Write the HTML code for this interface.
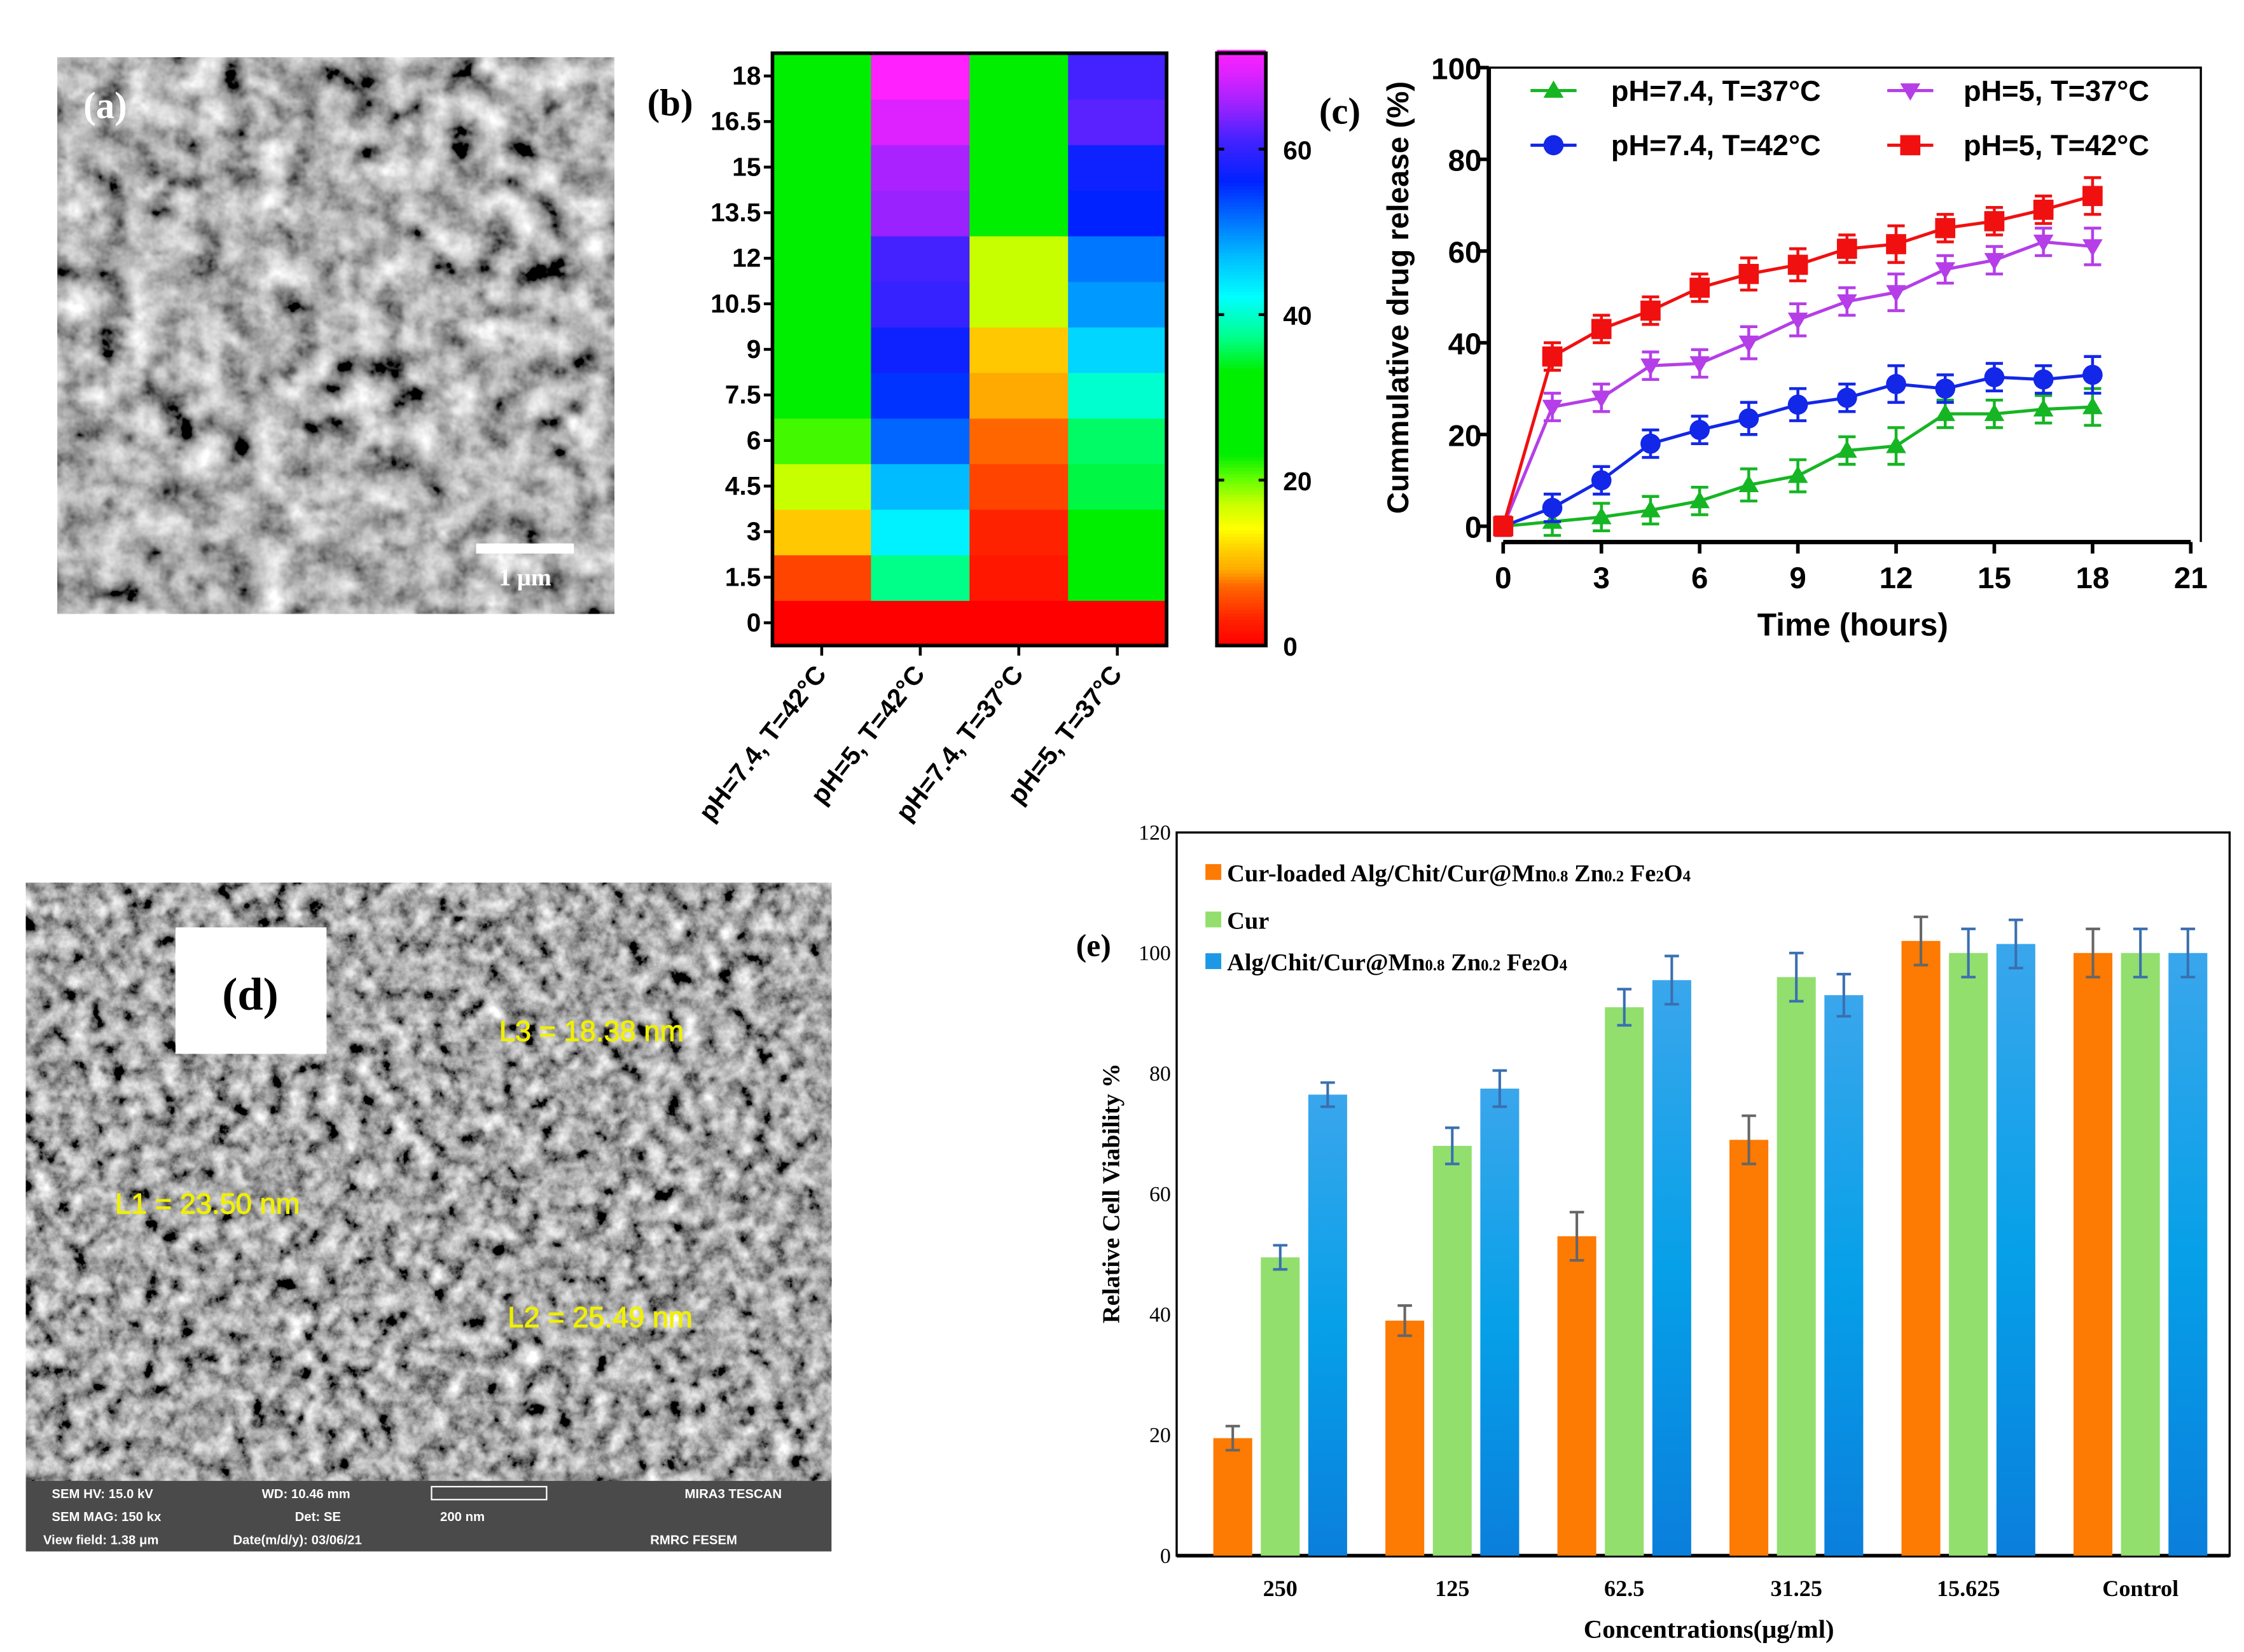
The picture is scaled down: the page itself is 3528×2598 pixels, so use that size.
<!DOCTYPE html>
<html><head><meta charset="utf-8"><style>
html,body{margin:0;padding:0;background:#fff}
svg{display:block}
text{font-family:"Liberation Sans",sans-serif}
.serif{font-family:"Liberation Serif",serif}
</style></head><body>
<svg id="fig" width="3528" height="2598" viewBox="0 0 1560 1149" preserveAspectRatio="none" xmlns="http://www.w3.org/2000/svg">
<defs>
<filter id="sem" x="0" y="0" width="100%" height="100%">
<feTurbulence type="fractalNoise" baseFrequency="0.045" numOctaves="4" seed="3"/>
<feColorMatrix type="matrix" values="0.33 0.33 0.33 0 0  0.33 0.33 0.33 0 0  0.33 0.33 0.33 0 0  0 0 0 0 1"/>
<feComponentTransfer><feFuncR type="linear" slope="2.6" intercept="-0.85"/><feFuncG type="linear" slope="2.6" intercept="-0.85"/><feFuncB type="linear" slope="2.6" intercept="-0.85"/></feComponentTransfer>
</filter>
<filter id="sem2" x="0" y="0" width="100%" height="100%">
<feTurbulence type="fractalNoise" baseFrequency="0.08" numOctaves="4" seed="8"/>
<feColorMatrix type="matrix" values="0.33 0.33 0.33 0 0  0.33 0.33 0.33 0 0  0.33 0.33 0.33 0 0  0 0 0 0 1"/>
<feComponentTransfer><feFuncR type="linear" slope="2.6" intercept="-0.9"/><feFuncG type="linear" slope="2.6" intercept="-0.9"/><feFuncB type="linear" slope="2.6" intercept="-0.9"/></feComponentTransfer>
</filter>
<linearGradient id="blueg" x1="0" y1="0" x2="0" y2="1"><stop offset="0" stop-color="#3aa6ec"/><stop offset="0.5" stop-color="#06a0e8"/><stop offset="1" stop-color="#0a7fdc"/></linearGradient>
</defs>

<!-- (a) SEM -->
<g>
<rect x="40" y="40" width="387" height="387" fill="#666"/>
<rect x="40" y="40" width="387" height="387" filter="url(#sem)"/>
<text x="58" y="82" class="serif" font-size="26" font-weight="bold" fill="#fff">(a)</text>
<rect x="331" y="378" width="68" height="7" fill="#fff"/>
<text x="365" y="407" class="serif" font-size="17" font-weight="bold" fill="#fff" text-anchor="middle">1 μm</text>
</g>

<!-- (b) heatmap -->
<g id="heat"></g>

<!-- (c) line chart -->
<g id="line"></g>

<!-- (d) SEM -->
<g>
<rect x="18" y="614" width="560" height="465" fill="#555"/>
<rect x="18" y="614" width="560" height="416" filter="url(#sem2)"/>
<rect x="122" y="645" width="105" height="88" fill="#fff"/>
<text x="174" y="702" class="serif" font-size="32" font-weight="bold" text-anchor="middle">(d)</text>
<g font-size="20" fill="#f0f000" stroke="#f0f000" stroke-width="0.5">
<text x="347" y="724">L3 = 18.38 nm</text>
<text x="80" y="844">L1 = 23.50 nm</text>
<text x="353" y="923">L2 = 25.49 nm</text>
</g>
<rect x="18" y="1030" width="560" height="49" fill="#4a4a4a"/>
<g font-size="9" fill="#fff" font-weight="bold">
<text x="36" y="1042">SEM HV: 15.0 kV</text><text x="182" y="1042">WD: 10.46 mm</text><text x="476" y="1042">MIRA3 TESCAN</text>
<text x="36" y="1058">SEM MAG: 150 kx</text><text x="205" y="1058">Det: SE</text><text x="306" y="1058">200 nm</text>
<text x="30" y="1074">View field: 1.38 μm</text><text x="162" y="1074">Date(m/d/y): 03/06/21</text><text x="452" y="1074">RMRC  FESEM</text>
</g>
<rect x="300" y="1034" width="80" height="9" fill="none" stroke="#fff" stroke-width="1"/>
</g>

<!-- (e) bar chart -->
<g id="bars"></g>
</svg>

<script>
// ===== heatmap data =====
const hmRows = [0,1.5,3,4.5,6,7.5,9,10.5,12,13.5,15,16.5,18];
const hmCols = ["pH=7.4, T=42°C","pH=5, T=42°C","pH=7.4, T=37°C","pH=5, T=37°C"];
const hmCol1 = [0,5,11,17,21,25,27,28,31,30,32,32,33];
const hmCol2 = [0,37,43,47,52,55,57,60,61,65,66,69,72];
const hmCol3 = [0,2,3,5,7,9,11,17,17,25,25,25,26];
const hmCol4 = [0,26,28,35,36,40,45,49,51,56,57,62,61];
const cbTicks = [0,20,40,60];

// ===== line chart data =====
const lcTime = [0,1.5,3,4.5,6,7.5,9,10.5,12,13.5,15,16.5,18];
const lcG37 = [0,1,2,3.5,5.5,9,11,16.5,17.5,24.5,24.5,25.5,26];
const lcB42 = [0,4,10,18,21,23.5,26.5,28,31,30,32.5,32,33];
const lcP37 = [0,26,28,35,35.5,40,45,49,51,56,58,62,61];
const lcR42 = [0,37,43,47,52,55,57,60.5,61.5,65,66.5,69,72];
const lcErr = [2,3,3,3,3,3.5,3.5,3,4,3,3,3,4];
const lcXTicks = [0,3,6,9,12,15,18,21];
const lcYTicks = [0,20,40,60,80,100];

// ===== bar chart data =====
const bcCats = ["250","125","62.5","31.25","15.625","Control"];
const bcOrange = [19.5,39,53,69,102,100];
const bcGreen = [49.5,68,91,96,100,100];
const bcBlue = [76.5,77.5,95.5,93,101.5,100];
const bcErrO = [2,2.5,4,4,4,4];
const bcErrG = [2,3,3,4,4,4];
const bcErrB = [2,3,4,3.5,4,4];
const bcYTicks = [0,20,40,60,80,100,120];

const NS="http://www.w3.org/2000/svg";
function mk(parent,tag,attrs,txt){const e=document.createElementNS(NS,tag);for(const k in attrs)e.setAttribute(k,attrs[k]);if(txt!==undefined)e.textContent=txt;parent.appendChild(e);return e;}

const cmapStops=[[0,[255,0,0]],[3,[255,34,0]],[5,[255,68,0]],[7,[255,102,0]],[9,[255,170,0]],[11,[255,200,0]],[14,[255,255,0]],[17,[200,255,0]],[20,[100,255,0]],[23,[0,238,0]],[33,[0,238,0]],[37,[0,255,136]],[42,[0,255,255]],[47,[0,187,255]],[52,[0,102,255]],[56,[0,34,255]],[61,[68,34,255]],[65,[153,34,255]],[69,[221,34,255]],[72,[255,34,255]]];
function cmap(v){if(v<=0)return "rgb(255,0,0)";for(let i=1;i<cmapStops.length;i++){const a=cmapStops[i-1],b=cmapStops[i];if(v<=b[0]){const t=(v-a[0])/(b[0]-a[0]);const c=a[1].map((x,j)=>Math.round(x+(b[1][j]-x)*t));return `rgb(${c})`;}}return "rgb(255,34,255)";}

// ---- heatmap ----
(function(){
const g=document.getElementById('heat');
const X0=537,X1=811,Y0=37,Y1=449;
const cw=(X1-X0)/hmCols.length, rh=(Y1-Y0)/hmRows.length;
const cols=[hmCol1,hmCol2,hmCol3,hmCol4];
const rowY=i=>Y1-(i+1)*rh;
cols.forEach((col,c)=>{col.forEach((v,r)=>{
  const cell=mk(g,'rect',{x:X0+c*cw,y:rowY(r),width:cw+0.6,height:rh+0.6,fill:cmap(v)});
  
  
});});
mk(g,'rect',{x:X0,y:Y0,width:X1-X0,height:Y1-Y0,fill:'none',stroke:'#000','stroke-width':2.5});
hmRows.forEach((v,i)=>{const y=rowY(i)+rh/2;mk(g,'line',{x1:X0-6,x2:X0,y1:y,y2:y,stroke:'#000','stroke-width':2});
  const t=mk(g,'text',{x:X0-8,y:y+6,'text-anchor':'end','font-size':18,'font-weight':'bold'},String(v));
  
  });
hmCols.forEach((n,c)=>{const x=X0+c*cw+cw/2;mk(g,'line',{x1:x,x2:x,y1:Y1,y2:Y1+7,stroke:'#000','stroke-width':2});
  const t=mk(g,'text',{x:x+4,y:Y1+20,'text-anchor':'end','font-size':18,'font-weight':'bold',transform:`rotate(-52 ${x+4} ${Y1+20})`},n);
  
  });
const lab=mk(g,'text',{x:450,y:80,class:'serif','font-size':26,'font-weight':'bold'},'(b)');


const CX0=846,CX1=880,vmax=71.6;
const cy=v=>Y1-v/vmax*(Y1-Y0);
for(let v=0;v<vmax;v+=0.4){mk(g,'rect',{x:CX0,y:cy(v+0.4),width:CX1-CX0,height:(Y1-Y0)*0.4/vmax+0.5,fill:cmap(v)});}
const cbf=mk(g,'rect',{x:CX0,y:Y0,width:CX1-CX0,height:Y1-Y0,fill:'none',stroke:'#000','stroke-width':2.5});


cbTicks.forEach(v=>{const y=cy(v);if(v>0){mk(g,'line',{x1:CX0,x2:CX0+5,y1:y,y2:y,stroke:'#000','stroke-width':2});mk(g,'line',{x1:CX1-5,x2:CX1,y1:y,y2:y,stroke:'#000','stroke-width':2});}
  const t=mk(g,'text',{x:CX1+12,y:y+7,'font-size':18,'font-weight':'bold'},String(v));
  
  });
})();

// ---- line chart ----
(function(){
const g=document.getElementById('line');
const xs=v=>1045+v*(1523-1045)/21, ys=v=>366-v*(366-47)/100;
const L=1035,B=377,T=47,R=1530;
mk(g,'path',{d:`M${L},${T}H${R}V${B}`,fill:'none',stroke:'#000','stroke-width':1.5});
mk(g,'line',{x1:L,x2:L,y1:T,y2:B,stroke:'#000','stroke-width':3});
mk(g,'line',{x1:xs(0),x2:xs(21),y1:B,y2:B,stroke:'#000','stroke-width':3});
lcXTicks.forEach(v=>{mk(g,'line',{x1:xs(v),x2:xs(v),y1:B,y2:B+8,stroke:'#000','stroke-width':2.5});
  const t=mk(g,'text',{x:xs(v),y:B+32,'text-anchor':'middle','font-size':21,'font-weight':'bold'},String(v));
  
  });
lcYTicks.forEach(v=>{mk(g,'line',{x1:L-8,x2:L,y1:ys(v),y2:ys(v),stroke:'#000','stroke-width':2.5});
  const t=mk(g,'text',{x:L-5,y:ys(v)+8,'text-anchor':'end','font-size':21,'font-weight':'bold'},String(v));
  
  });
const xt=mk(g,'text',{x:1288,y:442,'text-anchor':'middle','font-size':22,'font-weight':'bold'},'Time (hours)');


const yt=mk(g,'text',{x:979,y:207,'text-anchor':'middle','font-size':21,'font-weight':'bold',transform:'rotate(-90 979 207)'},'Cummulative drug release (%)');


const lb=mk(g,'text',{x:917,y:86,class:'serif','font-size':26,'font-weight':'bold'},'(c)');


function marker(p,shape,x,y,c){
  if(shape==='tri')return mk(p,'path',{d:`M${x},${y-7}L${x+7},${y+5}L${x-7},${y+5}Z`,fill:c});
  if(shape==='itri')return mk(p,'path',{d:`M${x},${y+7}L${x+7},${y-5}L${x-7},${y-5}Z`,fill:c});
  if(shape==='sq')return mk(p,'rect',{x:x-7,y:y-7,width:14,height:14,fill:c});
  return mk(p,'circle',{cx:x,cy:y,r:7,fill:c});
}
const series=[[lcG37,'#16b523','tri','pH=7.4, T=37°C',1080,63],[lcB42,'#1327e8','circ','pH=7.4, T=42°C',1080,101],[lcP37,'#b53ee8','itri','pH=5, T=37°C',1328,63],[lcR42,'#f01010','sq','pH=5, T=42°C',1328,101]];
series.forEach(([vals,c,shape,name,lx,ly])=>{
  const sg=mk(g,'g',{});
  
  
  mk(sg,'polyline',{points:vals.map((v,i)=>xs(lcTime[i])+','+ys(v)).join(' '),fill:'none',stroke:c,'stroke-width':2.2});
  vals.forEach((v,i)=>{const x=xs(lcTime[i]),e=lcErr[i];
    mk(sg,'path',{d:`M${x},${ys(v-e)}V${ys(v+e)}M${x-6},${ys(v-e)}h12M${x-6},${ys(v+e)}h12`,stroke:c,'stroke-width':2,fill:'none'});
    const m=marker(sg,shape,x,ys(v),c);
    
    });
  const le=mk(g,'g',{});
  
  
  mk(le,'line',{x1:lx-16,x2:lx+16,y1:ly,y2:ly,stroke:c,'stroke-width':2.2});
  marker(le,shape,lx,ly,c);
  mk(le,'text',{x:lx+(lx<1200?40:37),y:ly+7,'font-size':20,'font-weight':'bold'},name);
});
})();

// ---- bar chart ----
(function(){
const g=document.getElementById('bars');
const L=818,R=1550,T=579,B=1082;
const ys=v=>B-v*(B-T)/120;
const gx=i=>890+i*119.6;
const bw=27;
const fr=mk(g,'rect',{x:L,y:T,width:R-L,height:B-T,fill:'none',stroke:'#000','stroke-width':1.5});


mk(g,'line',{x1:L,x2:R,y1:B,y2:B,stroke:'#000','stroke-width':2.5});
bcYTicks.forEach(v=>{const t=mk(g,'text',{x:L-4,y:ys(v)+5,'text-anchor':'end',class:'serif','font-size':15},String(v));
  
  });
bcCats.forEach((c,i)=>{const t=mk(g,'text',{x:gx(i),y:1110,'text-anchor':'middle',class:'serif','font-size':16,'font-weight':'bold'},c);
  
  });
const sets=[[bcOrange,bcErrO,'#fd7a03',-33,'#666'],[bcGreen,bcErrG,'#92df6e',0,'#3a6fb0'],[bcBlue,bcErrB,'url(#blueg)',33,'#3a6fb0']];
sets.forEach(([vals,errs,fill,off,ec])=>{vals.forEach((v,i)=>{const x=gx(i)+off;
  const r=mk(g,'rect',{x:x-bw/2,y:ys(v),width:bw,height:B-ys(v),fill:fill});
  
  
  const e=errs[i];
  mk(g,'path',{d:`M${x},${ys(v-e)}V${ys(v+e)}M${x-5},${ys(v-e)}h10M${x-5},${ys(v+e)}h10`,stroke:ec,'stroke-width':1.8,fill:'none'});
});});
const legs=[['#fd7a03',607,'Cur-loaded Alg/Chit/Cur@Mn','0.8',' Zn','0.2',' Fe','2','O','4'],['#92df6e',640,'Cur'],['#1e98e6',669,'Alg/Chit/Cur@Mn','0.8',' Zn','0.2',' Fe','2','O','4']];
legs.forEach(l=>{const lg=mk(g,'g',{});
  
  
  mk(lg,'rect',{x:838,y:l[1]-6,width:11,height:11,fill:l[0]});
  const t=mk(lg,'text',{x:853,y:l[1]+6,class:'serif','font-size':17,'font-weight':'bold'});
  for(let k=2;k<l.length;k++){const sub=(k%2===1);mk(t,'tspan',sub?{'font-size':11}:{},l[k]);}
});
const lb=mk(g,'text',{x:748,y:665,class:'serif','font-size':22,'font-weight':'bold'},'(e)');


const yt=mk(g,'text',{x:778,y:830,'text-anchor':'middle',class:'serif','font-size':17,'font-weight':'bold',transform:'rotate(-90 778 830)'},'Relative Cell Viability %');


const xt=mk(g,'text',{x:1188,y:1139,'text-anchor':'middle',class:'serif','font-size':18,'font-weight':'bold'},'Concentrations(μg/ml)');


})();
</script>
</body></html>
